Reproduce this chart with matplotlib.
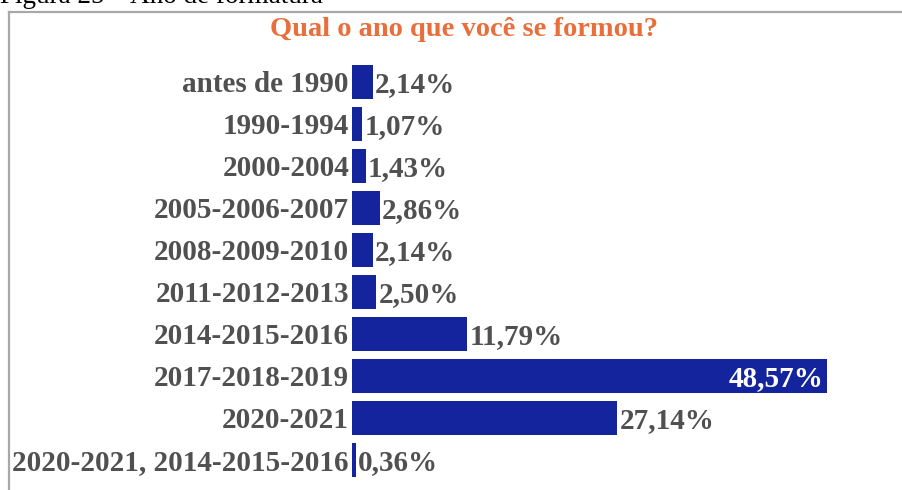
import matplotlib.pyplot as plt
from matplotlib.lines import Line2D
from matplotlib.transforms import offset_copy

categories = [
    "antes de 1990",
    "1990-1994",
    "2000-2004",
    "2005-2006-2007",
    "2008-2009-2010",
    "2011-2012-2013",
    "2014-2015-2016",
    "2017-2018-2019",
    "2020-2021",
    "2020-2021, 2014-2015-2016",
]
percent = [2.14, 1.07, 1.43, 2.86, 2.14, 2.50, 11.79, 48.57, 27.14, 0.36]

W, H = 902, 490
BAR_COLOR = "#14249c"
TEXT_GRAY = "#505050"
SERIF = "Liberation Serif"
FS = 21

fig = plt.figure(figsize=(W / 100, H / 100), dpi=100)

# plot area in pixels: x from 352 to 900, rows from y=61 to y=481
ax = fig.add_axes([352 / W, 1 - 481 / H, 548 / W, 420 / H])
pos = list(range(len(categories)))
ax.barh(pos, percent, height=0.79, color=BAR_COLOR)
ax.set_xlim(0, 548 / 9.78)
ax.set_ylim(len(categories) - 0.5, -0.5)
ax.axis("off")


def shifted(dx, dy):
    # data transform nudged by a few pixels (baseline sits below bar centre)
    return offset_copy(ax.transData, fig=fig, x=dx, y=dy, units="dots")


txt = dict(fontfamily=SERIF, fontweight="bold", fontsize=FS, va="baseline")

for i, (cat, v) in enumerate(zip(categories, percent)):
    ax.text(0, i, cat, transform=shifted(-3, -10), ha="right",
            color=TEXT_GRAY, **txt)
    lbl = f"{v:.2f}%".replace(".", ",")
    if v > 40:
        ax.text(v, i, lbl, transform=shifted(-4, -10), ha="right",
                color="white", **txt)
    else:
        ax.text(v, i, lbl, transform=shifted(2, -10), ha="left",
                color=TEXT_GRAY, **txt)

fig.text(464 / W, 1 - 36 / H, "Qual o ano que você se formou?", ha="center",
         va="baseline", fontfamily=SERIF, fontweight="bold", fontsize=20.5,
         color="#e86f3c")

# caption above the chart frame (partly cut off at the top)
fig.text(0, 1 - 3 / H, "Figura 25 – Ano de formatura", ha="left",
         va="baseline", fontfamily=SERIF, fontsize=19.5, color="black")

# chart frame
frame = dict(color="#a8a8a8", linewidth=1.6, transform=fig.transFigure)
fig.add_artist(Line2D([9 / W, 1], [1 - 12 / H, 1 - 12 / H], **frame))
fig.add_artist(Line2D([9 / W, 9 / W], [0, 1 - 12 / H], **frame))

fig.savefig("out.png", dpi=100)
